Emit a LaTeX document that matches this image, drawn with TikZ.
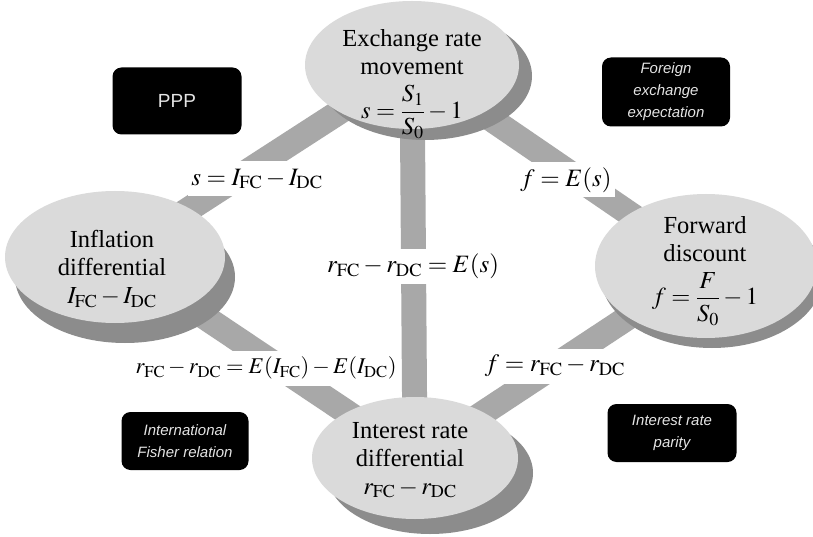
\documentclass[tikz,border=0pt]{standalone}
\usepackage{amsmath}
\usepackage{mathptmx}
\usepackage{fontspec}
\setmainfont{Liberation Serif}
\setsansfont{Liberation Sans}
\usetikzlibrary{shapes.geometric,shadows}
\definecolor{blobgray}{RGB}{218,218,218}
\definecolor{shadowgray}{RGB}{140,140,140}
\definecolor{bandgray}{RGB}{168,168,168}
\definecolor{boxtext}{RGB}{228,228,228}
\pgfdeclarelayer{paper}
\pgfdeclarelayer{bg}
\pgfsetlayers{paper,bg,main}
\begin{document}
\begin{tikzpicture}[x=1pt,y=-1pt,
  band/.style={line width=25pt, draw=bandgray},
  blob/.style={ellipse, fill=blobgray, draw=none, inner sep=0pt},
  blk/.style={fill=black, rounded corners=9pt, text=boxtext, align=center, inner sep=0pt,
    font=\sffamily\itshape\fontsize{15}{22}\selectfont},
  etxt/.style={font=\fontsize{24.5}{28}\selectfont, align=center, inner sep=0pt},
  ttl/.style={etxt, text depth=0pt},
  lbl/.style={fill=white, font=\fontsize{25}{28}\selectfont, inner xsep=3pt, inner ysep=0pt, minimum height=35pt}]
\useasboundingbox (0,0) rectangle (813,537);
\begin{pgfonlayer}{paper}
  \fill[white] (0,0) rectangle (813,537);
\end{pgfonlayer}

% ellipses
\node[blob, minimum width=214pt, minimum height=128pt,
  drop shadow={shadow xshift=13pt, shadow yshift=-11pt, fill=shadowgray, opacity=1}] (er) at (412,65) {};
\node[blob, minimum width=220pt, minimum height=132pt,
  drop shadow={shadow xshift=10pt, shadow yshift=-20pt, fill=shadowgray, opacity=1}] (inf) at (115,257) {};
\node[blob, minimum width=222pt, minimum height=144pt,
  drop shadow={shadow xshift=6pt, shadow yshift=-10pt, fill=shadowgray, opacity=1}] (fwd) at (706,266) {};
\node[blob, minimum width=206pt, minimum height=122pt,
  drop shadow={shadow xshift=15pt, shadow yshift=-15pt, fill=shadowgray, opacity=1}] (ird) at (415,458) {};

% bands
\begin{pgfonlayer}{bg}
  \draw[band] (er.center) -- (inf.center);
  \draw[band] (er.center) -- (fwd.center);
  \draw[band] (inf.center) -- (ird.center);
  \draw[band] (fwd.center) -- (ird.center);
\end{pgfonlayer}

% band labels (diagonals)
\node[lbl] (l1) at (257,179) {$s=I_{\mathrm{FC}}-I_{\mathrm{DC}}$};
\node[lbl] (l2) at (566,180) {$f=E(s)$};
\node[lbl, inner xsep=0pt, font=\fontsize{22.5}{26}\selectfont] (l4) at (266,368) {$r_{\mathrm{FC}}-r_{\mathrm{DC}}=E(I_{\mathrm{FC}})-E(I_{\mathrm{DC}})$};
\node[lbl] (l5) at (555,366) {$f=r_{\mathrm{FC}}-r_{\mathrm{DC}}$};

% vertical band
\begin{pgfonlayer}{bg}
  \draw[band] (er.center) -- (ird.center);
\end{pgfonlayer}
\node[lbl] (l3) at (413,266) {$r_{\mathrm{FC}}-r_{\mathrm{DC}}=E(s)$};

% ellipse texts
\node[ttl] (erT) at (412,52) {Exchange rate\\movement};
\node[etxt] (erF) at (412,112) {$s=\dfrac{S_1}{S_0}-1$};
\node[ttl] (infT) at (112,253) {Inflation\\differential};
\node[etxt] (infF) at (112,298) {$I_{\mathrm{FC}}-I_{\mathrm{DC}}$};
\node[ttl] (fwdT) at (705,239) {Forward\\discount};
\node[etxt] (fwdF) at (705,299) {$f=\dfrac{F}{S_0}-1$};
\node[ttl] (irdT) at (410,444) {Interest rate\\differential};
\node[etxt] (irdF) at (410,489) {$r_{\mathrm{FC}}-r_{\mathrm{DC}}$};

% black boxes
\node[blk, minimum width=129pt, minimum height=67pt, font=\sffamily\fontsize{19}{21}\selectfont] (ppp) at (177,101) {PPP};
\node[blk, minimum width=128pt, minimum height=69pt] (fee) at (666,92) {Foreign\\exchange\\expectation};
\node[blk, minimum width=127pt, minimum height=58pt] (ifr) at (185,441) {International\\Fisher relation};
\node[blk, minimum width=129pt, minimum height=58pt] (irp) at (672,433) {Interest rate\\parity};
\end{tikzpicture}
\end{document}
